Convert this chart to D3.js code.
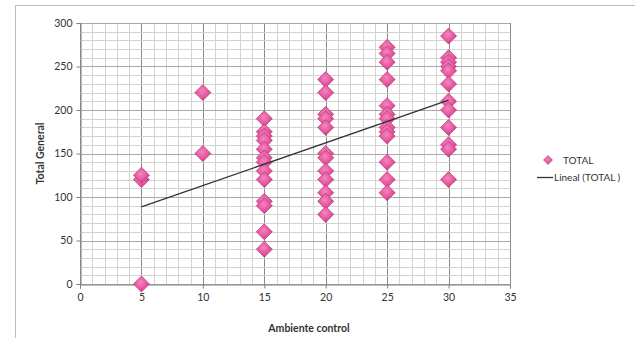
<!DOCTYPE html>
<html>
<head>
<meta charset="utf-8">
<script src="https://cdn.jsdelivr.net/npm/d3@7"></script>
<style>
  body { margin: 0; background: #fff; }
  text { font-family: Lato, "Open Sans", sans-serif; fill: #333; }
</style>
</head>
<body>
<div id="chart"></div>
<script>
// values, one list per x column
var xLevels = [5, 10, 15, 20, 25, 30];
var col5 = [0, 120, 125];
var col10 = [220, 150];
var col15 = [190, 175, 170, 165, 155, 145, 140, 130, 120, 95, 90, 60, 40];
var col20 = [235, 220, 195, 190, 180, 150, 145, 130, 120, 105, 95, 80];
var col25 = [272, 265, 255, 235, 205, 195, 190, 180, 175, 170, 140, 120, 105];
var col30 = [285, 260, 255, 250, 245, 230, 210, 200, 180, 160, 155, 120];
var xTicks = [0, 5, 10, 15, 20, 25, 30, 35];
var yTicks = [0, 50, 100, 150, 200, 250, 300];

var cols = [col5, col10, col15, col20, col25, col30];
var points = [];
cols.forEach(function (c, i) {
    c.forEach(function (v) { points.push({ x: xLevels[i], y: v }); });
});

var W = 635, H = 338;
var svg = d3.select("#chart").append("svg")
    .attr("width", W).attr("height", H);

// outer chart frame
svg.append("rect")
    .attr("x", 15.5).attr("y", 5.5)
    .attr("width", W).attr("height", H)
    .attr("fill", "none").attr("stroke", "#bdbdbd");

var xScale = d3.scaleLinear().domain([0, 35]).range([80, 510]);
var yScale = d3.scaleLinear().domain([0, 300]).range([284, 23]);

var defs = svg.append("defs");
var grad = defs.append("radialGradient").attr("id", "pink")
    .attr("cx", "45%").attr("cy", "40%").attr("r", "60%");
grad.append("stop").attr("offset", "0%").attr("stop-color", "#f585c0");
grad.append("stop").attr("offset", "70%").attr("stop-color", "#e2519a");
grad.append("stop").attr("offset", "100%").attr("stop-color", "#b83d7a");

// grid: minor every 1 / 10, major every 5 / 50
var grid = svg.append("g");
d3.range(0, 36, 1).forEach(function (v) {
    grid.append("line")
        .attr("x1", Math.round(xScale(v)) + 0.5).attr("x2", Math.round(xScale(v)) + 0.5)
        .attr("y1", yScale(300)).attr("y2", yScale(0))
        .attr("stroke", v % 5 === 0 ? "#8a8a8a" : "#d2d2d2")
        .attr("stroke-width", 1);
});
d3.range(0, 301, 10).forEach(function (v) {
    grid.append("line")
        .attr("x1", xScale(0)).attr("x2", xScale(35))
        .attr("y1", Math.round(yScale(v)) + 0.5).attr("y2", Math.round(yScale(v)) + 0.5)
        .attr("stroke", v % 50 === 0 ? "#a8a8a8" : "#d2d2d2")
        .attr("stroke-width", 1);
});

// axes
var xAxis = d3.axisBottom(xScale).tickValues(xTicks).tickSize(4).tickPadding(5);
var yAxis = d3.axisLeft(yScale).tickValues(yTicks).tickSize(4).tickPadding(4);

svg.append("g")
    .attr("transform", "translate(0," + (Math.round(yScale(0)) + 0.5) + ")")
    .call(xAxis)
    .call(function (g) {
        g.selectAll("line, path").attr("stroke", "#808080");
        g.selectAll("text").attr("font-size", 10.5).attr("fill", "#333");
    });

svg.append("g")
    .attr("transform", "translate(" + (Math.round(xScale(0)) + 0.5) + ",0)")
    .call(yAxis)
    .call(function (g) {
        g.selectAll("line, path").attr("stroke", "#808080");
        g.selectAll("text").attr("font-size", 10.5).attr("fill", "#333");
    });

// linear trend line (least squares)
var n = points.length;
var mx = d3.mean(points, function (d) { return d.x; });
var my = d3.mean(points, function (d) { return d.y; });
var sxy = d3.sum(points, function (d) { return (d.x - mx) * (d.y - my); });
var sxx = d3.sum(points, function (d) { return (d.x - mx) * (d.x - mx); });
var slope = sxy / sxx, icpt = my - slope * mx;
var xMin = d3.min(points, function (d) { return d.x; });
var xMax = d3.max(points, function (d) { return d.x; });

var diamond = function (r) {
    return "M0," + (-r) + "L" + r + ",0L0," + r + "L" + (-r) + ",0Z";
};

svg.append("g").selectAll("path")
    .data(points)
    .enter().append("path")
    .attr("transform", function (d) {
        return "translate(" + xScale(d.x) + "," + yScale(d.y) + ")";
    })
    .attr("d", diamond(8))
    .attr("fill", "url(#pink)")
    .attr("stroke", "#c0447f")
    .attr("stroke-width", 0.8);

svg.append("line")
    .attr("x1", xScale(xMin)).attr("y1", yScale(icpt + slope * xMin))
    .attr("x2", xScale(xMax)).attr("y2", yScale(icpt + slope * xMax))
    .attr("stroke", "#333").attr("stroke-width", 1.3);

// axis titles
svg.append("text")
    .attr("transform", "translate(44," + yScale(150) + ") rotate(-90)")
    .attr("text-anchor", "middle")
    .attr("font-size", 10.5).attr("font-weight", "bold")
    .text("Total General");

svg.append("text")
    .attr("x", 309).attr("y", 332)
    .attr("text-anchor", "middle")
    .attr("font-size", 10.5).attr("font-weight", "bold")
    .text("Ambiente control");

// legend
var lg = svg.append("g");
lg.append("path")
    .attr("transform", "translate(548,160)")
    .attr("d", diamond(4.5))
    .attr("fill", "url(#pink)").attr("stroke", "#c0447f").attr("stroke-width", 0.6);
lg.append("text").attr("x", 563).attr("y", 164)
    .attr("font-size", 10).text("TOTAL");
lg.append("line")
    .attr("x1", 537).attr("x2", 553).attr("y1", 177.5).attr("y2", 177.5)
    .attr("stroke", "#333").attr("stroke-width", 1.3);
lg.append("text").attr("x", 554).attr("y", 181)
    .attr("font-size", 10).text("Lineal (TOTAL )");
</script>
</body>
</html>
